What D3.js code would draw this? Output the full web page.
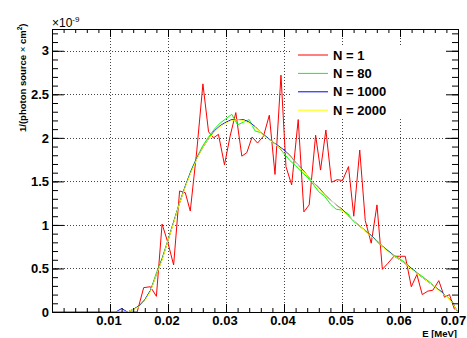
<!DOCTYPE html>
<html>
<head>
<meta charset="utf-8">
<script src="https://cdn.jsdelivr.net/npm/d3@7"></script>
<style>
  html, body { margin: 0; padding: 0; background: #fff; }
  svg { display: block; font-family: "Liberation Sans", Arial, Helvetica, sans-serif; }
  .tick-label { font-weight: bold; font-size: 13px; fill: #000; }
</style>
</head>
<body>
<div id="host"></div>
<script>
// N = 1 (single photon run) - noisy
const energyN1 = [0, 0.0137, 0.01468, 0.01581, 0.01696, 0.01800, 0.01898, 0.01997, 0.02097, 0.02200,
  0.02298, 0.02384, 0.02496, 0.02602, 0.02699, 0.02784, 0.02870, 0.02974, 0.03071, 0.03169,
  0.03273, 0.03359, 0.03450, 0.03544, 0.03647, 0.03747, 0.03845, 0.03948, 0.04034, 0.04132,
  0.04245, 0.04343, 0.04434, 0.04545, 0.04630, 0.04722, 0.04819, 0.04916, 0.05009, 0.05112,
  0.05203, 0.05306, 0.05401, 0.05504, 0.05603, 0.05696, 0.05792, 0.05896, 0.05993, 0.06091,
  0.06195, 0.06291, 0.06384, 0.06480, 0.06566, 0.06669, 0.06767, 0.06853, 0.06939];
const valuesN1 = [0, 0, 0, 0.28, 0.29, 0.18, 1.01, 0.80, 0.54, 1.39,
  1.37, 1.16, 1.85, 2.62, 2.07, 2.00, 2.04, 1.69, 2.02, 2.29,
  1.79, 1.83, 2.01, 1.94, 2.02, 2.26, 1.58, 2.72, 1.67, 1.46,
  2.21, 1.15, 1.23, 2.03, 1.63, 2.09, 1.49, 1.52, 1.51, 1.67,
  1.10, 1.86, 1.05, 0.79, 1.23, 0.49, 0.56, 0.64, 0.64, 0.64,
  0.29, 0.43, 0.20, 0.24, 0.25, 0.36, 0.17, 0.20, 0.03];

// smoother runs share one energy grid
const energySmooth = [0, 0.011, 0.0115, 0.012, 0.0125, 0.013, 0.014, 0.015, 0.016, 0.017,
  0.018, 0.019, 0.020, 0.021, 0.022, 0.023, 0.024, 0.025, 0.026, 0.027,
  0.028, 0.029, 0.030, 0.031, 0.032, 0.033, 0.034, 0.035, 0.036, 0.037,
  0.038, 0.039, 0.040, 0.041, 0.042, 0.043, 0.044, 0.045, 0.046, 0.047,
  0.048, 0.049, 0.050, 0.051, 0.052, 0.053, 0.054, 0.055, 0.056, 0.057,
  0.058, 0.059, 0.060, 0.061, 0.062, 0.063, 0.064, 0.065, 0.066, 0.067,
  0.068, 0.069, 0.0695, 0.070];
const valuesN80 = [0, 0, 0, 0, 0, 0, 0.03, 0.07, 0.14, 0.25,
  0.45, 0.62, 0.83, 1.04, 1.26, 1.45, 1.63, 1.78, 1.91, 2.01,
  2.10, 2.17, 2.22, 2.27, 2.15, 2.18, 2.21, 2.08, 2.06, 2.01,
  1.96, 1.90, 1.82, 1.74, 1.68, 1.61, 1.55, 1.47, 1.38, 1.33,
  1.24, 1.18, 1.17, 1.13, 1.04, 0.99, 0.94, 0.88, 0.82, 0.76,
  0.70, 0.65, 0.61, 0.56, 0.50, 0.45, 0.40, 0.35, 0.29, 0.24,
  0.18, 0.11, 0.05, 0];
const valuesN1000 = [0, 0, 0.02, 0.04, 0.02, 0, 0.03, 0.07, 0.14, 0.25,
  0.43, 0.61, 0.82, 1.04, 1.25, 1.45, 1.62, 1.77, 1.89, 1.99,
  2.08, 2.14, 2.18, 2.21, 2.21, 2.21, 2.18, 2.13, 2.06, 2.01,
  1.95, 1.91, 1.86, 1.80, 1.72, 1.65, 1.57, 1.49, 1.43, 1.35,
  1.29, 1.23, 1.18, 1.11, 1.05, 0.99, 0.93, 0.88, 0.81, 0.75,
  0.70, 0.64, 0.60, 0.55, 0.50, 0.44, 0.39, 0.34, 0.29, 0.24,
  0.18, 0.12, 0.05, 0];
const valuesN2000 = [0, 0, 0, 0, 0, 0, 0.03, 0.06, 0.13, 0.24,
  0.43, 0.60, 0.82, 1.03, 1.25, 1.44, 1.61, 1.76, 1.89, 1.99,
  2.07, 2.13, 2.17, 2.20, 2.21, 2.20, 2.17, 2.12, 2.06, 2.00,
  1.95, 1.90, 1.85, 1.79, 1.72, 1.64, 1.57, 1.49, 1.42, 1.35,
  1.29, 1.23, 1.17, 1.11, 1.05, 0.99, 0.93, 0.87, 0.81, 0.75,
  0.69, 0.64, 0.60, 0.55, 0.49, 0.44, 0.39, 0.34, 0.29, 0.23,
  0.18, 0.11, 0.05, 0];

const seriesNames = ['N = 1', 'N = 80', 'N = 1000', 'N = 2000'];
const seriesColors = ['#ff0000', '#00ff00', '#0000ff', '#ffff00'];

const xMajorTicks = [0.01, 0.02, 0.03, 0.04, 0.05, 0.06, 0.07];
const xTickLabels = ['0.01', '0.02', '0.03', '0.04', '0.05', '0.06', '0.07'];
const yMajorTicks = [0, 0.5, 1, 1.5, 2, 2.5, 3];
const yTickLabels = ['0', '0.5', '1', '1.5', '2', '2.5', '3'];
const xDomain = [0, 0.07];
const yDomain = [0, 3.25];

const width = 467, height = 338;
const frame = { left: 52, right: 458, top: 29, bottom: 312 };

const svg = d3.select('#host').append('svg')
  .attr('width', width).attr('height', height);
svg.append('rect').attr('width', width).attr('height', height).attr('fill', '#fff');

const x = d3.scaleLinear().domain(xDomain).range([frame.left, frame.right]);
const y = d3.scaleLinear().domain(yDomain).range([frame.bottom, frame.top]);

// dotted grid at the major ticks
const grid = svg.append('g').attr('class', 'grid')
  .attr('stroke', '#444').attr('stroke-width', 1).attr('stroke-dasharray', '1,2');
grid.selectAll('.gx').data(xMajorTicks.filter(d => d < xDomain[1])).enter().append('line')
  .attr('x1', d => Math.round(x(d)) + 0.5).attr('x2', d => Math.round(x(d)) + 0.5)
  .attr('y1', frame.top).attr('y2', frame.bottom);
grid.selectAll('.gy').data(yMajorTicks.filter(d => d > 0)).enter().append('line')
  .attr('y1', d => Math.round(y(d)) + 0.5).attr('y2', d => Math.round(y(d)) + 0.5)
  .attr('x1', frame.left).attr('x2', frame.right);

// curves
const line = d3.line().x(d => x(d[0])).y(d => y(d[1]));
const curves = [
  [energyN1, valuesN1],
  [energySmooth, valuesN80],
  [energySmooth, valuesN1000],
  [energySmooth, valuesN2000],
];
svg.append('g').attr('class', 'curves')
  .selectAll('path').data(curves).enter().append('path')
  .attr('d', d => line(d[0].map((e, i) => [e, d[1][i]])))
  .attr('fill', 'none')
  .attr('stroke', (d, i) => seriesColors[i])
  .attr('stroke-width', 1)
  .attr('stroke-linejoin', 'round');

// legend (white box, no border)
const legend = svg.append('g').attr('class', 'legend');
legend.append('rect')
  .attr('x', 292).attr('y', 45).attr('width', 165).attr('height', 74)
  .attr('fill', '#fff');
const rows = legend.selectAll('.row').data(seriesNames).enter().append('g')
  .attr('transform', (d, i) => `translate(0,${55 + i * 18.4})`);
rows.append('line')
  .attr('x1', 298).attr('x2', 328).attr('y1', 0).attr('y2', 0)
  .attr('stroke', (d, i) => seriesColors[i]).attr('stroke-width', 1);
rows.append('text')
  .attr('x', 333).attr('y', 0).attr('dy', '0.36em')
  .attr('font-size', 13).attr('font-weight', 'bold')
  .text(d => d);

// axes: ROOT style, ticks inside the frame on all four sides
const xMinor = d3.range(0, 0.0701, 0.002);
const yMinor = d3.range(0, 3.25, 0.1);

const axes = svg.append('g').attr('class', 'axes');
axes.append('g').attr('transform', `translate(0,${frame.bottom})`)
  .call(d3.axisBottom(x).tickValues(xMinor).tickSize(-4).tickFormat(''));
const bottomMajor = axes.append('g').attr('transform', `translate(0,${frame.bottom})`)
  .call(d3.axisBottom(x).tickValues(xMajorTicks).tickSize(-8).tickPadding(4)
    .tickFormat((d, i) => xTickLabels[i]));
axes.append('g').attr('transform', `translate(0,${frame.top})`)
  .call(d3.axisTop(x).tickValues(xMinor).tickSize(-4).tickFormat(''));
axes.append('g').attr('transform', `translate(0,${frame.top})`)
  .call(d3.axisTop(x).tickValues(xMajorTicks).tickSize(-8).tickFormat(''));
axes.append('g').attr('transform', `translate(${frame.left},0)`)
  .call(d3.axisLeft(y).tickValues(yMinor).tickSize(-6).tickFormat(''));
axes.append('g').attr('transform', `translate(${frame.left},0)`)
  .call(d3.axisLeft(y).tickValues(yMajorTicks).tickSize(-12).tickPadding(3)
    .tickFormat((d, i) => yTickLabels[i]));
axes.append('g').attr('transform', `translate(${frame.right},0)`)
  .call(d3.axisRight(y).tickValues(yMinor).tickSize(-6).tickFormat(''));
axes.append('g').attr('transform', `translate(${frame.right},0)`)
  .call(d3.axisRight(y).tickValues(yMajorTicks).tickSize(-12).tickFormat(''));

axes.selectAll('.domain').remove();
axes.selectAll('.tick line').attr('stroke', '#000').attr('stroke-width', 1);
axes.selectAll('.tick text')
  .attr('class', 'tick-label')
  .attr('font-family', null).attr('font-size', null);

// x labels sit a touch left of their ticks; keep the last one inside the page
bottomMajor.selectAll('.tick text')
  .attr('x', (d, i) => (i === xMajorTicks.length - 1 ? -5 : -1.5));

// frame
svg.append('rect')
  .attr('x', frame.left + 0.5).attr('y', frame.top + 0.5)
  .attr('width', frame.right - frame.left).attr('height', frame.bottom - frame.top)
  .attr('fill', 'none').attr('stroke', '#000').attr('stroke-width', 1);

// exponent on the y axis
const expo = svg.append('text').attr('x', frame.left).attr('y', 27)
  .attr('font-size', 12);
expo.append('tspan').text('\u00d710');
expo.append('tspan').attr('font-size', 8).attr('dy', -5).text('-9');

// axis titles
svg.append('text')
  .attr('x', frame.right - 1).attr('y', 336.5)
  .attr('text-anchor', 'end')
  .attr('font-size', 9.5).attr('font-weight', 'bold')
  .text('E [MeV]');

const yTitle = svg.append('text')
  .attr('transform', 'translate(26,132) rotate(-90)')
  .attr('font-size', 9.5).attr('font-weight', 'bold');
yTitle.append('tspan').text('1/(photon source ');
yTitle.append('tspan').attr('font-weight', 'normal').text('\u00d7');
yTitle.append('tspan').text(' cm');
yTitle.append('tspan').attr('font-size', 6.5).attr('dy', -4).text('2');
yTitle.append('tspan').attr('dy', 4).text(')');
</script>
</body>
</html>
